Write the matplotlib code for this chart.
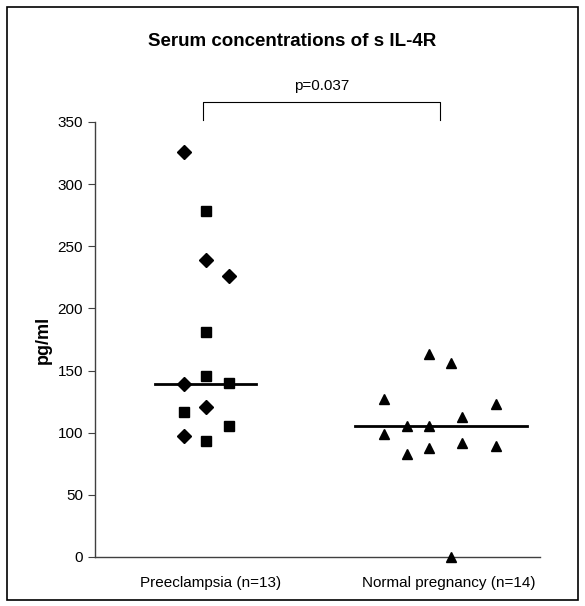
import matplotlib
matplotlib.use("Agg")
import matplotlib.pyplot as plt
from matplotlib.patches import Rectangle

plt.rcParams['font.family'] = ['Liberation Sans', 'DejaVu Sans']

# preeclampsia group (x = horizontal scatter position in chart units)
pre_diamond_x = [4, 5, 6, 4, 5, 4]
pre_diamond_y = [326, 239, 226, 139, 121, 97]
pre_square_x = [5, 5, 5, 6, 4, 6, 5]
pre_square_y = [278, 181, 146, 140, 117, 105, 93]
pre_median = 139

# normal pregnancy group
norm_x = [15, 16, 13, 18, 16.5, 14, 15, 13, 16.5, 18, 15, 14, 16]
norm_y = [163, 156, 127, 123, 113, 105, 105, 99, 92, 89, 88, 83, 0]
norm_median = 105

categories = ['Preeclampsia (n=13)', 'Normal pregnancy (n=14)']
cat_pos = [5.2, 15.9]
yticks = [0, 50, 100, 150, 200, 250, 300, 350]

fig = plt.figure(figsize=(5.85, 6.06), dpi=100)
ax = fig.add_axes([0.1624, 0.0809, 0.7607, 0.7178])

ax.plot(pre_diamond_x, pre_diamond_y, 'D', color='black', ms=7.2, clip_on=False)
ax.plot(pre_square_x, pre_square_y, 's', color='black', ms=7.2, clip_on=False)
ax.plot(norm_x, norm_y, '^', color='black', ms=7, clip_on=False, zorder=5)

ax.plot([2.7, 7.25], [pre_median, pre_median], color='black', lw=2)
ax.plot([11.7, 19.4], [norm_median, norm_median], color='black', lw=2)

# significance bracket
ax.plot([4.85, 4.85, 15.5, 15.5], [352, 366, 366, 352], color='black', lw=0.8, clip_on=False)
ax.text(10.2, 373, 'p=0.037', ha='center', va='bottom', fontsize=11)

ax.set_xlim(0, 20)
ax.set_ylim(0, 350)
ax.set_yticks(yticks)
ax.set_xticks(cat_pos)
ax.set_xticklabels(categories, fontsize=11)
ax.tick_params(axis='x', length=0, pad=14)
ax.tick_params(axis='y', direction='out', length=5, labelsize=11, color='#404040')
for s in ['top', 'right']:
    ax.spines[s].set_visible(False)
for s in ['left', 'bottom']:
    ax.spines[s].set_color('#404040')
    ax.spines[s].set_linewidth(1)
ax.set_ylabel('pg/ml', fontsize=13, fontweight='bold', labelpad=4)

fig.text(0.5, 0.932, 'Serum concentrations of s IL-4R', ha='center', va='center',
         fontsize=13.5, fontweight='bold')

# outer chart frame
fig.patches.append(Rectangle((7/585, 6/606), 571/585, 593/606, transform=fig.transFigure,
                             fill=False, edgecolor='black', lw=1.2))

fig.savefig('out.png', dpi=100)
